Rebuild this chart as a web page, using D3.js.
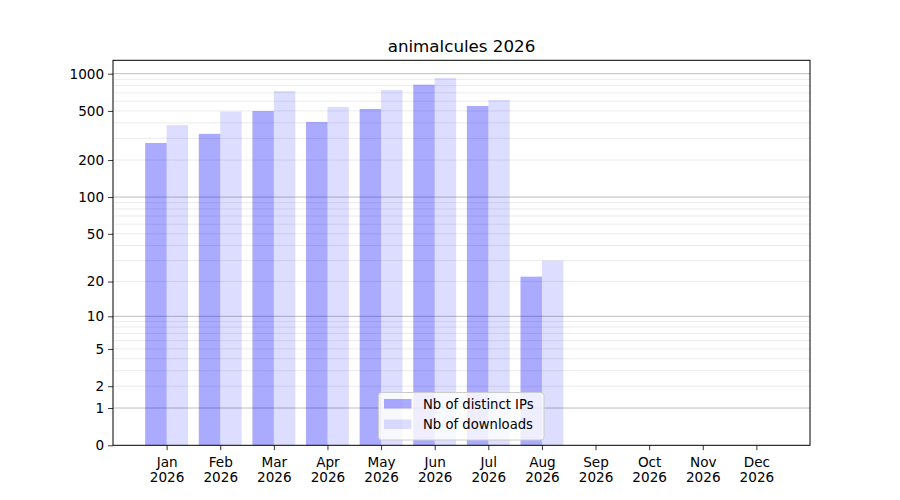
<!DOCTYPE html>
<html lang="en">
<head>
  <meta charset="UTF-8">
  <title>animalcules 2026</title>
  <script src="https://d3js.org/d3.v7.min.js"></script>
  <style>
    body { margin: 0; background: #fff; font-family: "DejaVu Sans", sans-serif; }
    svg text { font-family: "DejaVu Sans", sans-serif; fill: #000; }
  </style>
</head>
<body>
  <svg width="900" height="500" viewBox="0 0 900 500"></svg>
  <script>
    // Chart data
    const months = ["Jan", "Feb", "Mar", "Apr", "May", "Jun", "Jul", "Aug", "Sep", "Oct", "Nov", "Dec"];
    const year = "2026";
    const distinctIPs = [275, 326, 499, 407, 519, 815, 548, 22, 0, 0, 0, 0];
    const downloads = [384, 494, 725, 538, 739, 923, 613, 30, 0, 0, 0, 0];
    const yTickValues = [0, 1, 2, 5, 10, 20, 50, 100, 200, 500, 1000];
    const seriesNames = ["Nb of distinct IPs", "Nb of downloads"];

    const width = 900, height = 500;
    const margin = { left: 113, right: 90, top: 60.3, bottom: 54.7 };
    const fontSize = "13.6px";
    const svg = d3.select("svg");

    // x runs over month numbers, y is log10(1 + v), same shape as symlog with constant 1
    const x = d3.scaleLinear().domain([0, 13]).range([margin.left, width - margin.right]);
    const y = d3.scaleSymlog().constant(1)
                .domain([0, 1283])
                .range([height - margin.bottom, margin.top]);

    // grid: major at powers of ten, minor at 2..9 times them
    const major = [1, 10, 100, 1000];
    const minor = [];
    [1, 10, 100].forEach(p => { for (let k = 2; k <= 9; k++) minor.push(k * p); });

    const grid = svg.append("g");
    grid.selectAll("line.minor").data(minor).enter().append("line")
        .attr("x1", x(0)).attr("x2", x(13))
        .attr("y1", d => y(d)).attr("y2", d => y(d))
        .attr("stroke", "#ebebeb").attr("stroke-width", 1);
    grid.selectAll("line.major").data(major).enter().append("line")
        .attr("x1", x(0)).attr("x2", x(13))
        .attr("y1", d => y(d)).attr("y2", d => y(d))
        .attr("stroke", "#bdbdbd").attr("stroke-width", 1);

    // bars, IPs left of the tick, downloads right of it
    const barW = 0.4;
    svg.append("g").selectAll("rect")
       .data(distinctIPs.map((v, i) => ({ m: i + 1, v })))
       .enter().append("rect")
       .attr("x", d => x(d.m - barW))
       .attr("width", d => x(d.m) - x(d.m - barW))
       .attr("y", d => y(d.v))
       .attr("height", d => y(0) - y(d.v))
       .attr("fill", "blue").attr("fill-opacity", 0.333);
    svg.append("g").selectAll("rect")
       .data(downloads.map((v, i) => ({ m: i + 1, v })))
       .enter().append("rect")
       .attr("x", d => x(d.m))
       .attr("width", d => x(d.m + barW) - x(d.m))
       .attr("y", d => y(d.v))
       .attr("height", d => y(0) - y(d.v))
       .attr("fill", "blue").attr("fill-opacity", 0.133);

    // axes
    const yAxis = d3.axisLeft(y).tickValues(yTickValues).tickFormat(d3.format("d"))
                    .tickSize(4.9).tickPadding(4);
    const gy = svg.append("g").attr("transform", `translate(${margin.left},0)`).call(yAxis);
    gy.select(".domain").remove();
    gy.selectAll("line").attr("stroke", "#000").attr("stroke-width", 0.8);
    gy.selectAll("text").style("font-size", fontSize);

    const xAxis = d3.axisBottom(x).tickValues(d3.range(1, 13)).tickFormat("")
                    .tickSize(4.9);
    const gx = svg.append("g").attr("transform", `translate(0,${height - margin.bottom})`).call(xAxis);
    gx.select(".domain").remove();
    gx.selectAll("line").attr("stroke", "#000").attr("stroke-width", 0.8);
    gx.selectAll(".tick").append("text")
      .attr("text-anchor", "middle")
      .style("font-size", fontSize)
      .each(function(d) {
        const t = d3.select(this);
        t.append("tspan").attr("x", 0).attr("y", 21.5).text(months[d - 1]);
        t.append("tspan").attr("x", 0).attr("y", 36.8).text(year);
      });

    // frame
    svg.append("rect")
       .attr("x", x(0)).attr("y", margin.top)
       .attr("width", x(13) - x(0)).attr("height", y(0) - margin.top)
       .attr("fill", "none").attr("stroke", "#000").attr("stroke-width", 1);

    // title
    svg.append("text")
       .attr("x", (x(0) + x(13)) / 2).attr("y", 52)
       .attr("text-anchor", "middle")
       .style("font-size", "16.7px")
       .text("animalcules " + year);

    // legend, lower centre
    const lg = svg.append("g").attr("transform", "translate(378.5,392.5)");
    lg.append("rect")
      .attr("width", 165.5).attr("height", 47.5).attr("rx", 3)
      .attr("fill", "#fff").attr("fill-opacity", 0.8)
      .attr("stroke", "#cccccc").attr("stroke-width", 1);
    seriesNames.forEach((name, i) => {
      lg.append("rect")
        .attr("x", 5.5).attr("y", 6.5 + i * 20.5)
        .attr("width", 27.5).attr("height", 9.5)
        .attr("fill", "blue").attr("fill-opacity", i === 0 ? 0.333 : 0.133);
      lg.append("text")
        .attr("x", 44.5).attr("y", 16 + i * 20.5)
        .style("font-size", "13.2px")
        .text(name);
    });
  </script>
</body>
</html>
